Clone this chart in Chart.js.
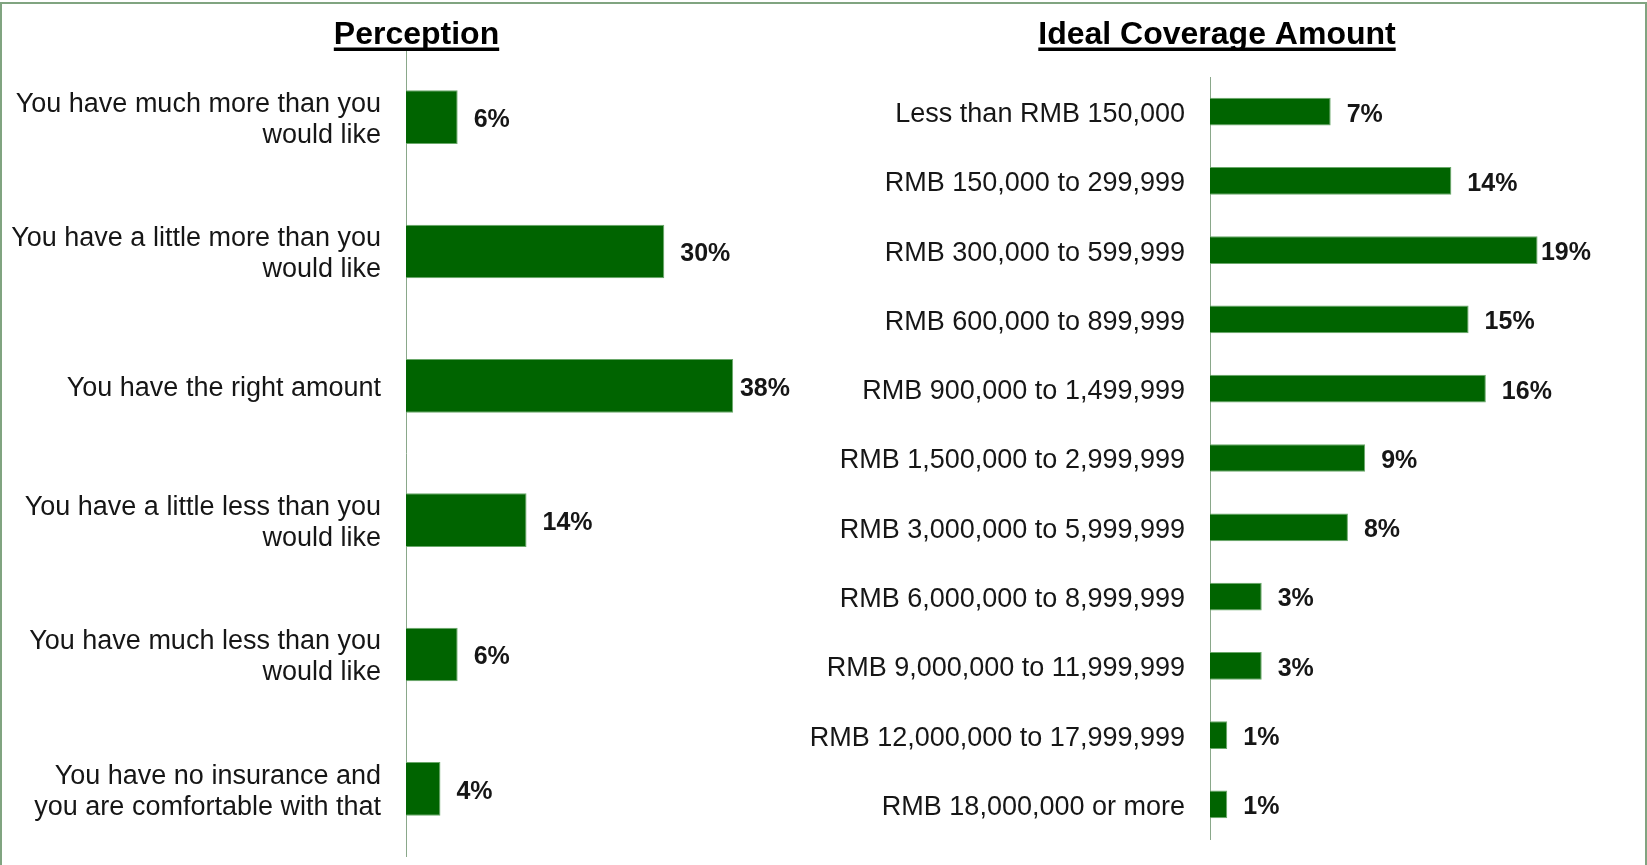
<!DOCTYPE html>
<html><head><meta charset="utf-8">
<script src="https://cdn.jsdelivr.net/npm/chart.js@4"></script>
<style>
html,body{margin:0;padding:0;background:#fff;overflow:hidden;width:1647px;height:865px}
#frame{position:absolute;left:0;top:2px;width:1647px;height:880px;box-sizing:border-box;border:2px solid #80a480;border-bottom:none}
.wrap{position:absolute;top:0;height:865px}
#w1{left:0;width:833px}
#w2{left:780px;width:867px}
canvas{display:block}
</style></head><body>
<div id="frame"></div>
<div class="wrap" id="w1"><canvas id="c1"></canvas></div>
<div class="wrap" id="w2"><canvas id="c2"></canvas></div>
<script>
// ---- data ----
const perceptionTitle = 'Perception';
const perceptionCategories = [
  ['You have much more than you', 'would like'],
  ['You have a little more than you', 'would like'],
  'You have the right amount',
  ['You have a little less than you', 'would like'],
  ['You have much less than you', 'would like'],
  ['You have no insurance and', 'you are comfortable with that']
];
const perceptionValues = [6, 30, 38, 14, 6, 4];

const coverageTitle = 'Ideal Coverage Amount';
const coverageCategories = [
  'Less than RMB 150,000',
  'RMB 150,000 to 299,999',
  'RMB 300,000 to 599,999',
  'RMB 600,000 to 899,999',
  'RMB 900,000 to 1,499,999',
  'RMB 1,500,000 to 2,999,999',
  'RMB 3,000,000 to 5,999,999',
  'RMB 6,000,000 to 8,999,999',
  'RMB 9,000,000 to 11,999,999',
  'RMB 12,000,000 to 17,999,999',
  'RMB 18,000,000 or more'
];
const coverageValues = [7, 14, 19, 15, 16, 9, 8, 3, 3, 1, 1];

// ---- styling ----
const FONT = '"Liberation Sans", Arial, sans-serif';
const TEXT = '#161616';
const BAR = '#006400';
const BAR_EDGE = '#6aa86a';
const AXIS = '#8aa88a';

const valueLabels = {
  id: 'valueLabels',
  afterDatasetsDraw(chart) {
    const ctx = chart.ctx, area = chart.chartArea;
    const meta = chart.getDatasetMeta(0);
    const data = chart.data.datasets[0].data;
    ctx.save();
    ctx.font = 'bold 25px ' + FONT;
    ctx.fillStyle = TEXT;
    ctx.textBaseline = 'middle';
    ctx.textAlign = 'left';
    meta.data.forEach((bar, i) => {
      const t = data[i] + '%';
      const w = ctx.measureText(t).width;
      let x = bar.x + 16;
      if (x + w > area.right) x = area.right - w;
      ctx.fillText(t, x, bar.y + 3);
    });
    ctx.restore();
  }
};

const ulTitle = {
  id: 'ulTitle',
  afterDraw(chart, args, opts) {
    const ctx = chart.ctx;
    ctx.save();
    ctx.font = 'bold 32px ' + FONT;
    ctx.fillStyle = '#000';
    ctx.textAlign = 'center';
    ctx.textBaseline = 'alphabetic';
    ctx.fillText(opts.text, opts.x, 44);
    const w = ctx.measureText(opts.text).width;
    ctx.fillRect(opts.x - w / 2, 47.5, w, 3.5);
    ctx.restore();
  }
};

function makeChart(id, cats, vals, o) {
  return new Chart(document.getElementById(id), {
    type: 'bar',
    data: {
      labels: cats,
      datasets: [{
        data: vals,
        backgroundColor: BAR,
        borderColor: BAR_EDGE,
        borderWidth: 1,
        categoryPercentage: 0.8,
        barPercentage: 0.5
      }]
    },
    options: {
      indexAxis: 'y',
      responsive: true,
      maintainAspectRatio: false,
      animation: false,
      devicePixelRatio: 1,
      layout: { padding: { top: o.padTop, bottom: o.padBottom, right: o.padRight, left: 0 } },
      plugins: {
        legend: { display: false },
        tooltip: { enabled: false },
        title: { display: false },
        ulTitle: { text: o.title, x: o.titleX }
      },
      scales: {
        x: { display: false, min: 0, max: o.xMax },
        y: {
          grid: { display: false, drawTicks: false },
          border: { display: true, color: AXIS, width: 1 },
          ticks: {
            autoSkip: false,
            padding: 25,
            labelOffset: 3,
            color: TEXT,
            font: { family: FONT, size: 27, lineHeight: 1.15 }
          },
          afterFit(axis) {
            axis.width = o.axisWidth;
            axis.paddingTop = 0;
            axis.paddingBottom = 0;
          }
        }
      }
    },
    plugins: [valueLabels, ulTitle]
  });
}

makeChart('c1', perceptionCategories, perceptionValues, {
  title: perceptionTitle, titleX: 416.5,
  axisWidth: 406, padTop: 50, padBottom: 9, padRight: 43, xMax: 44.6
});
makeChart('c2', coverageCategories, coverageValues, {
  title: coverageTitle, titleX: 437,
  axisWidth: 430, padTop: 77, padBottom: 26, padRight: 56, xMax: 22.1
});
</script>
</body></html>
